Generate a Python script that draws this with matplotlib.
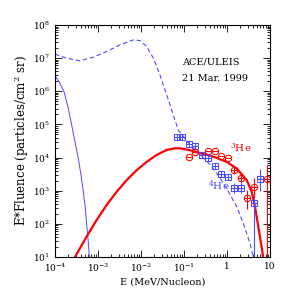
import matplotlib
matplotlib.use("Agg")
import matplotlib.pyplot as plt
import numpy as np

# 4He data (blue squares)
he4_E = [0.068, 0.092, 0.133, 0.185, 0.262, 0.367, 0.518, 0.736, 1.04, 1.48, 2.08, 4.3, 5.85]
he4_F = [42700, 40500, 25700, 21600, 12000, 9700, 5570, 3200, 2540, 1180, 1180, 435, 2210]
he4_lo = [0, 0, 0, 0, 0, 0, 0, 0, 0, 340, 340, 432, 1210]
he4_hi = [0, 0, 0, 0, 0, 0, 0, 0, 0, 480, 480, 885, 2400]

# 3He data (red circles)
he3_E = [0.133, 0.185, 0.367, 0.518, 0.736, 1.04, 1.48, 2.08, 2.97, 4.3, 8.4]
he3_F = [10600, 14400, 15800, 15800, 11400, 9500, 4220, 2370, 590, 1270, 2210]
he3_lo = [0, 0, 0, 0, 0, 0, 1020, 690, 303, 633, 2205]
he3_hi = [0, 0, 0, 0, 0, 0, 1350, 970, 445, 1185, 3860]

# model curves (log10 E, log10 E*Fluence)
red_logE = [-3.535, -3.263, -3.03, -2.798, -2.565, -2.333, -2.10, -1.868, -1.635, -1.402,
            -1.209, -1.093, -0.85, -0.628, -0.319, -0.007, 0.226, 0.458, 0.574, 0.651,
            0.728, 0.805, 0.845]
red_logF = [1.00, 1.62, 2.12, 2.57, 2.97, 3.32, 3.62, 3.87, 4.08, 4.23,
            4.28, 4.28, 4.22, 4.13, 4.03, 3.87, 3.67, 3.32, 2.97, 2.52,
            1.91, 1.31, 0.96]

dash_logE = [-4.00, -3.728, -3.419, -3.109, -2.798, -2.488, -2.179, -2.023, -1.868, -1.714,
             -1.558, -1.402, -1.249, -1.133, -0.90, -0.60, -0.40, -0.24, -0.007, 0.226,
             0.379, 0.535, 0.61]
dash_logF = [7.12, 7.00, 6.92, 7.03, 7.20, 7.40, 7.55, 7.53, 7.35, 7.00,
             6.49, 5.89, 5.29, 4.83, 4.45, 4.05, 3.80, 3.53, 3.07, 2.52,
             2.02, 1.41, 1.00]

sol_logE = [-4.00, -3.884, -3.791, -3.691, -3.612, -3.535, -3.458, -3.395, -3.342, -3.295,
            -3.263, -3.226, -3.202]
sol_logF = [6.47, 6.24, 5.99, 5.49, 4.98, 4.48, 3.98, 3.47, 2.97, 2.47,
            1.97, 1.46, 1.00]

blue = "#4a4aff"
red = "#ff0000"

plt.rcParams['font.family'] = ['DejaVu Serif']
plt.rcParams['mathtext.fontset'] = 'dejavuserif'

fig = plt.figure(figsize=(2.94, 2.94), dpi=100)
ax = fig.add_axes([55/294, 37/294, 215/294, 232/294])
ax.set_xscale('log')
ax.set_yscale('log')
ax.set_xlim(1e-4, 10)
ax.set_ylim(10, 1e8)

ax.plot(10**np.array(sol_logE), 10**np.array(sol_logF), color=blue, lw=0.7)
ax.plot(10**np.array(dash_logE), 10**np.array(dash_logF), color=blue, lw=0.8, ls=(0, (4, 2.5)))
ax.plot(10**np.array(red_logE), 10**np.array(red_logF), color=red, lw=1.6)

ax.errorbar(he4_E, he4_F, yerr=[he4_lo, he4_hi], fmt='none', ecolor=blue, elinewidth=0.8)
ax.plot(he4_E, he4_F, ls='none', marker='s', ms=3.8, mfc='none', mec=blue, mew=0.75)
ax.plot(he4_E, he4_F, ls='none', marker='+', ms=3.8, mec=blue, mew=0.75)

ax.errorbar(he3_E, he3_F, yerr=[he3_lo, he3_hi], fmt='none', ecolor=red, elinewidth=0.8)
ax.plot(he3_E, he3_F, ls='none', marker='o', ms=4.6, mfc='none', mec=red, mew=0.75)
ax.plot(he3_E, he3_F, ls='none', marker='_', ms=4.6, mec=red, mew=0.75)

ax.text(0.59, 0.83, 'ACE/ULEIS', transform=ax.transAxes, fontsize=7)
ax.text(0.59, 0.76, '21 Mar. 1999', transform=ax.transAxes, fontsize=7)
ax.text(0.815, 0.455, r'$^3$He', transform=ax.transAxes, fontsize=7.5, color=red)
ax.text(0.71, 0.29, r'$^4$He', transform=ax.transAxes, fontsize=7.5, color=blue)

ax.tick_params(which='both', direction='in', top=True, right=True, labelsize=6.5, width=0.6)
ax.tick_params(which='major', length=5)
ax.tick_params(which='minor', length=2.5)
ax.set_xticks([1e-4, 1e-3, 1e-2, 1e-1, 1, 10])
ax.set_xticklabels([r'$10^{-4}$', r'$10^{-3}$', r'$10^{-2}$', r'$10^{-1}$', '1', '10'])
ax.set_yticks([10**k for k in range(1, 9)])
ax.set_yticklabels([r'$10^{%d}$' % k for k in range(1, 9)])
ax.xaxis.set_minor_locator(matplotlib.ticker.LogLocator(base=10, subs=np.arange(2, 10), numticks=20))
ax.yaxis.set_minor_locator(matplotlib.ticker.LogLocator(base=10, subs=np.arange(2, 10), numticks=20))
ax.xaxis.set_minor_formatter(matplotlib.ticker.NullFormatter())
ax.yaxis.set_minor_formatter(matplotlib.ticker.NullFormatter())
for s in ax.spines.values():
    s.set_linewidth(0.8)

ax.set_xlabel('E (MeV/Nucleon)', fontsize=7, labelpad=2)
ax.set_ylabel(r'E*Fluence (particles/cm$^2$ sr)', fontsize=8.5, labelpad=1)

fig.savefig('out.png', dpi=100)
